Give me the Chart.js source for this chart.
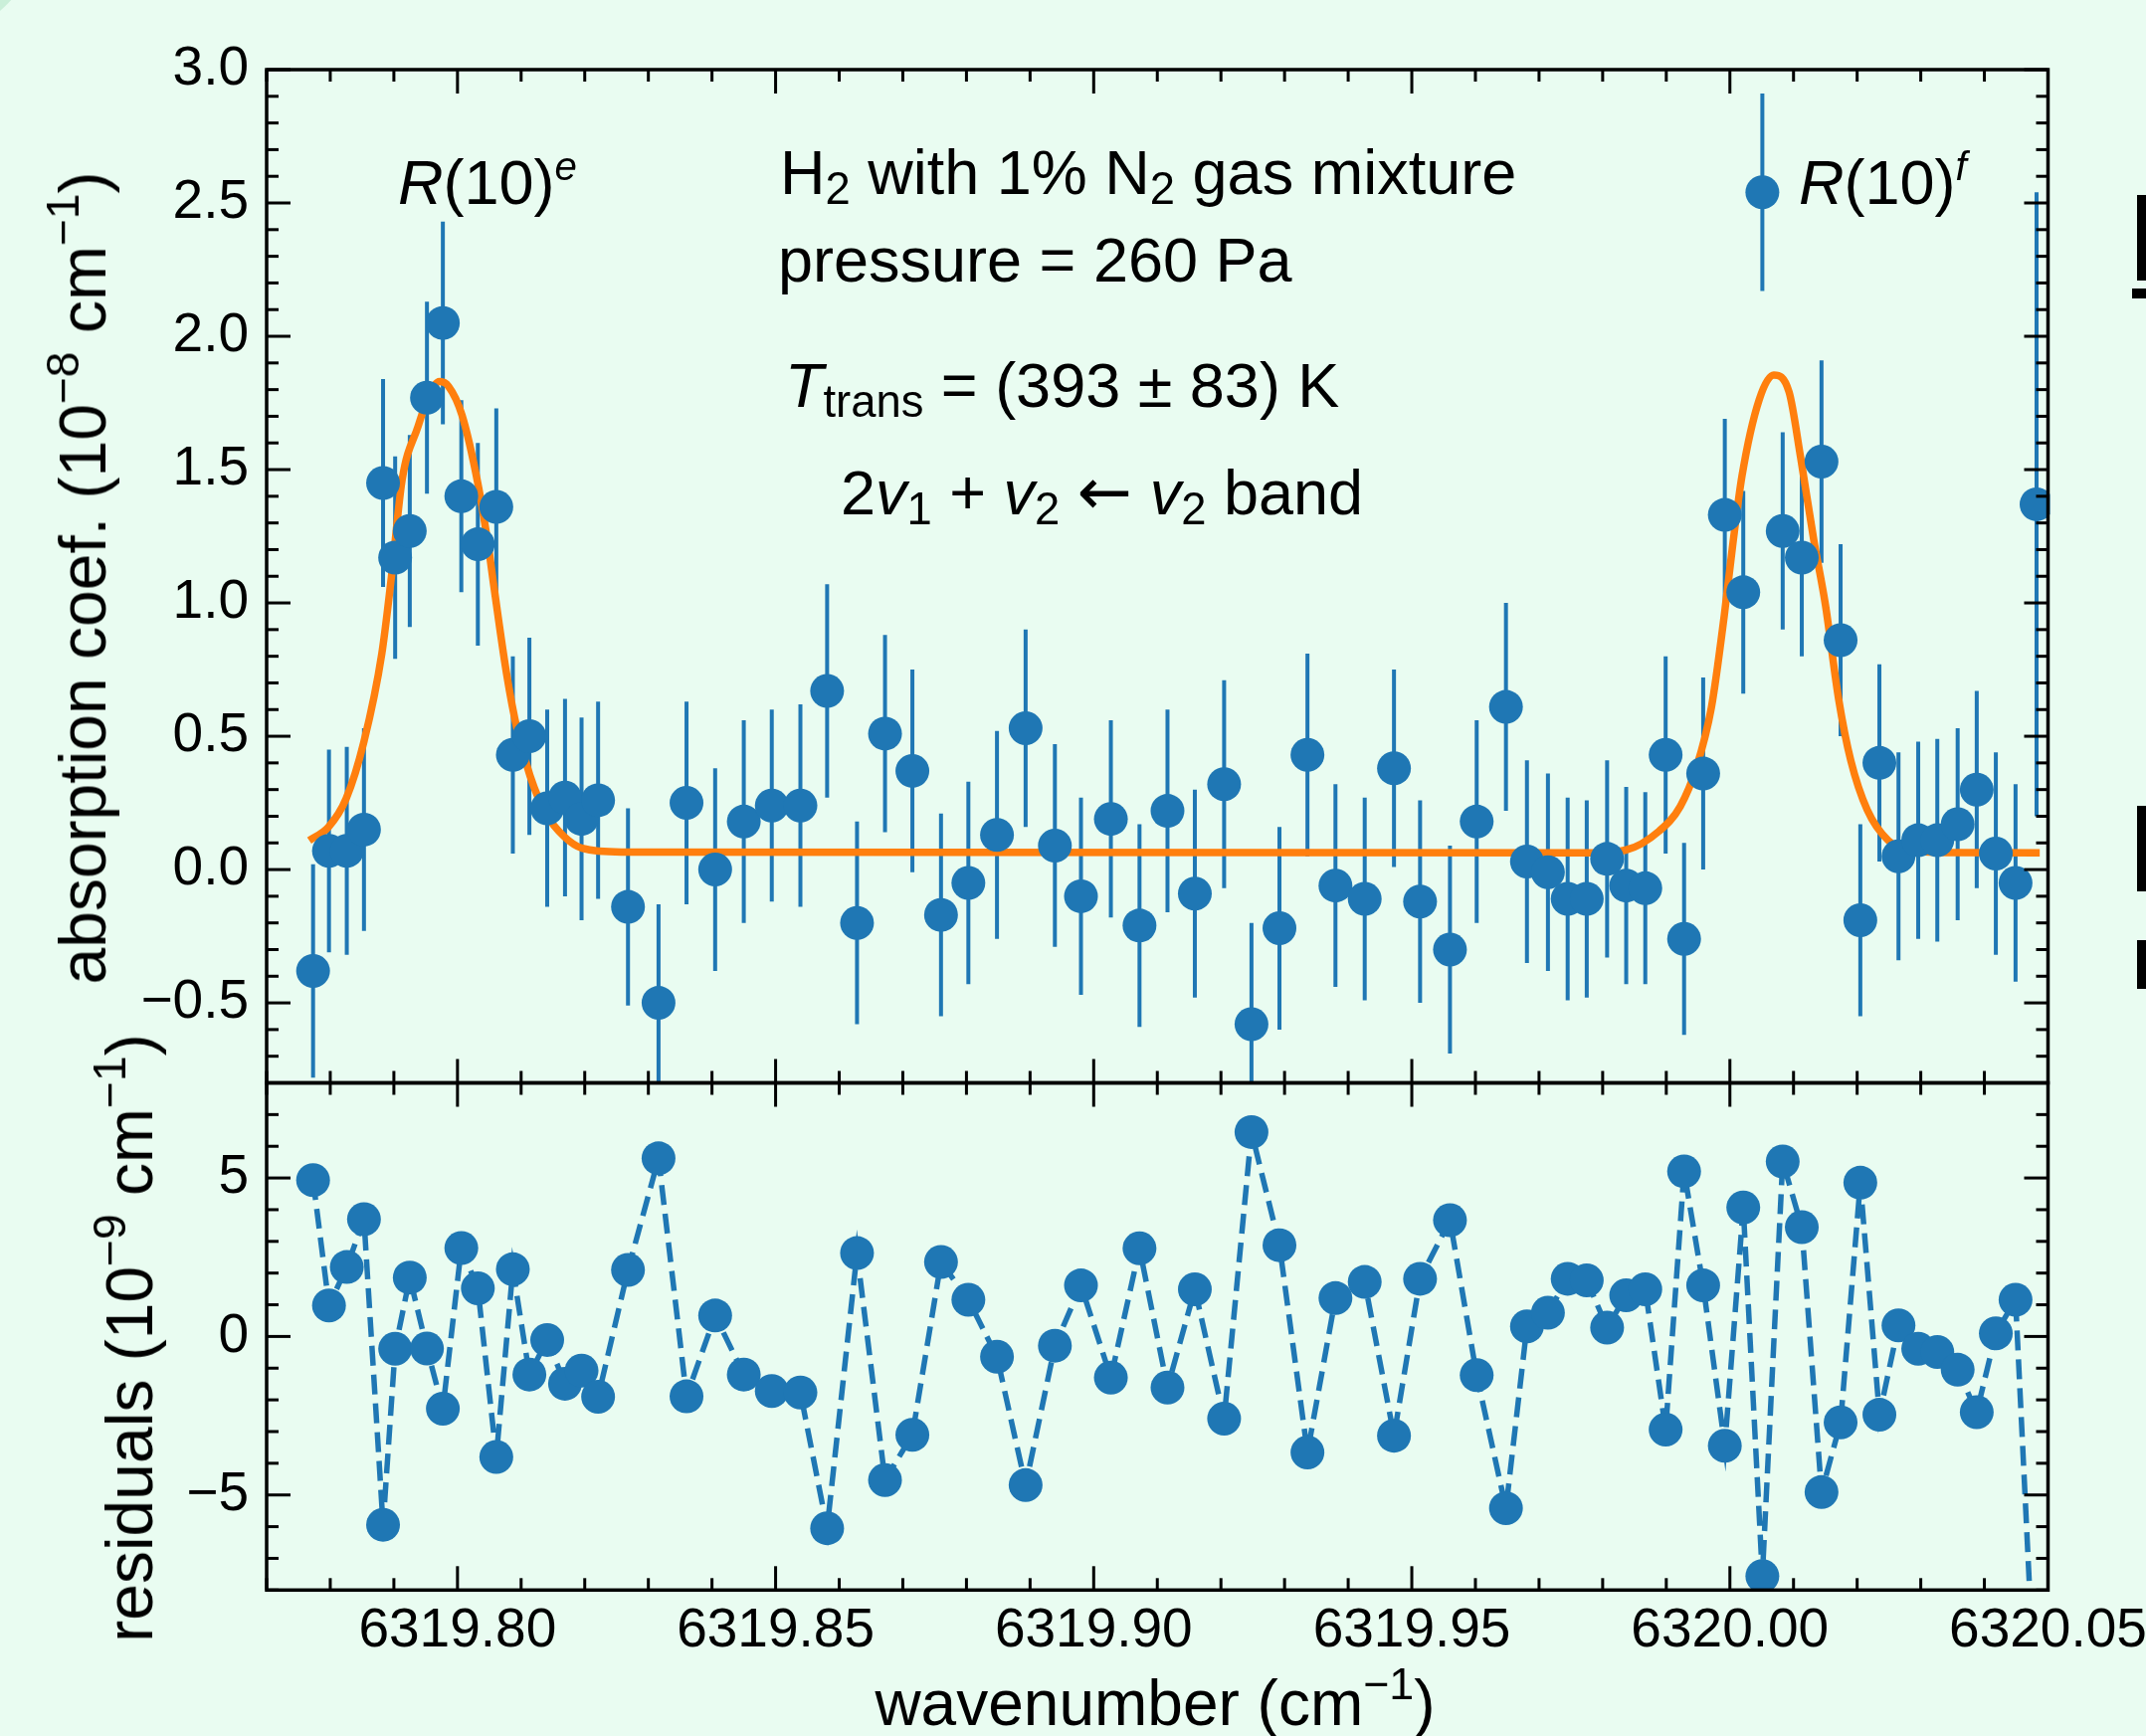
<!DOCTYPE html>
<html>
<head>
<meta charset="utf-8">
<script src="https://cdn.jsdelivr.net/npm/chart.js@4.4.1/dist/chart.umd.min.js"></script>
<style>
  html, body { margin: 0; padding: 0; }
  body {
    width: 2157px; height: 1745px; overflow: hidden; position: relative;
    background: #e9fcf1; font-family: "Liberation Sans", Arial, sans-serif; color: #000;
  }
  canvas { position: absolute; left: 0; }
  #absChart { top: 0; }
  #resChart { top: 1050px; }
  .txt { position: absolute; white-space: nowrap; line-height: 1; font-size: 63px; }
  .txt sub { font-size: 72%; vertical-align: -10px; line-height: 0; }
  .txt sup { font-size: 64%; vertical-align: 24px; line-height: 0; }
  .arrow { font-family: "DejaVu Sans", sans-serif; font-size: 66px; line-height: 0; }
  .lbl { position: absolute; white-space: nowrap; line-height: 1; font-size: 66px; }
  .lbl sup { font-size: 70%; vertical-align: 27px; line-height: 0; }
  .xlbl { font-size: 64px; transform: translateX(-50%); }
  .xlbl sup { vertical-align: 26px; }
  .ylbl { transform: translate(-50%, -50%) rotate(-90deg); }
  .corner { position: absolute; width: 610px; height: 610px; border-radius: 50%;
    left: -513px; top: -517px; background: #caefd9; }
  .frag { position: absolute; background: #000; }
</style>
</head>
<body>
<div class="corner"></div>
<canvas id="absChart" width="2157" height="1100"></canvas>
<canvas id="resChart" width="2157" height="695"></canvas>

<!-- annotations -->
<div class="txt" style="left:784px; top:142px;">H<sub>2</sub> with 1% N<sub>2</sub> gas mixture</div>
<div class="txt" style="left:782px; top:230px;">pressure = 260 Pa</div>
<div class="txt" style="left:789px; top:356px;"><i>T</i><sub>trans</sub> = (393 ± 83) K</div>
<div class="txt" style="left:845px; top:464px;">2<i>v</i><sub>1</sub> + <i>v</i><sub>2</sub> <span class="arrow">←</span> <i>v</i><sub>2</sub> band</div>
<div class="txt" style="left:400px; top:152px;"><i>R</i>(10)<sup><i>e</i></sup></div>
<div class="txt" style="left:1808px; top:152px;"><i>R</i>(10)<sup><i>f</i></sup></div>

<!-- axis titles -->
<div class="lbl ylbl" style="left:83px; top:581px;">absorption coef. (10<sup>−8</sup> cm<sup>−1</sup>)</div>
<div class="lbl ylbl" style="left:130px; top:1345px;">residuals (10<sup>−9</sup> cm<sup>−1</sup>)</div>
<div class="lbl xlbl" style="left:1161px; top:1680px;">wavenumber (cm<sup>−1</sup>)</div>

<!-- cut-off glyphs of the neighbouring panel -->
<div class="frag" style="left:2148px; top:196px; width:9px; height:86px;"></div>
<div class="frag" style="left:2143px; top:290px; width:14px; height:10px;"></div>
<div class="frag" style="left:2148px; top:810px; width:9px; height:86px;"></div>
<div class="frag" style="left:2148px; top:945px; width:9px; height:49px;"></div>

<script>
// measured spectrum (absorption in 1e-8 cm^-1, residuals in 1e-9 cm^-1)
const wavenumber = [
    6319.7773, 6319.7798, 6319.7826, 6319.7853, 6319.7883, 6319.7902, 6319.7925, 6319.7952,
    6319.7977, 6319.8006, 6319.8032, 6319.8061, 6319.8087, 6319.8113, 6319.8141, 6319.8169,
    6319.8195, 6319.8221, 6319.8268, 6319.8316, 6319.8360, 6319.8405, 6319.8450, 6319.8494,
    6319.8539, 6319.8581, 6319.8628, 6319.8672, 6319.8715, 6319.8760, 6319.8803, 6319.8848,
    6319.8893, 6319.8939, 6319.8980, 6319.9027, 6319.9072, 6319.9116, 6319.9159, 6319.9205,
    6319.9248, 6319.9292, 6319.9336, 6319.9380, 6319.9426, 6319.9472, 6319.9513, 6319.9560,
    6319.9602, 6319.9648, 6319.9681, 6319.9714, 6319.9745, 6319.9775, 6319.9807, 6319.9837,
    6319.9867, 6319.9899, 6319.9928, 6319.9958, 6319.9992, 6320.0021, 6320.0051, 6320.0083,
    6320.0113, 6320.0144, 6320.0174, 6320.0205, 6320.0235, 6320.0265, 6320.0296, 6320.0326,
    6320.0358, 6320.0388, 6320.0418, 6320.0449, 6320.0482
];
const absorption = [
    -0.38, 0.07, 0.07, 0.15, 1.45, 1.17, 1.27, 1.77,
    2.05, 1.40, 1.22, 1.36, 0.43, 0.50, 0.23, 0.27,
    0.19, 0.26, -0.14, -0.50, 0.25, 0.00, 0.18, 0.24,
    0.24, 0.67, -0.20, 0.51, 0.37, -0.17, -0.05, 0.13,
    0.53, 0.09, -0.10, 0.19, -0.21, 0.22, -0.09, 0.32,
    -0.58, -0.22, 0.43, -0.06, -0.11, 0.38, -0.12, -0.30,
    0.18, 0.61, 0.03, -0.01, -0.11, -0.11, 0.04, -0.06,
    -0.07, 0.43, -0.26, 0.36, 1.33, 1.04, 2.54, 1.27,
    1.17, 1.53, 0.86, -0.19, 0.40, 0.05, 0.11, 0.11,
    0.17, 0.30, 0.06, -0.05, 1.37
];
const absorptionErr = [
    0.40, 0.38, 0.39, 0.38, 0.39, 0.38, 0.36, 0.36,
    0.38, 0.36, 0.38, 0.37, 0.37, 0.37, 0.37, 0.37,
    0.38, 0.37, 0.37, 0.37, 0.38, 0.38, 0.38, 0.36,
    0.38, 0.40, 0.38, 0.37, 0.38, 0.38, 0.38, 0.39,
    0.37, 0.38, 0.37, 0.37, 0.38, 0.38, 0.39, 0.39,
    0.38, 0.38, 0.38, 0.38, 0.38, 0.37, 0.38, 0.39,
    0.38, 0.39, 0.38, 0.37, 0.38, 0.37, 0.37, 0.37,
    0.36, 0.37, 0.36, 0.36, 0.36, 0.38, 0.37, 0.37,
    0.37, 0.38, 0.36, 0.36, 0.37, 0.39, 0.37, 0.38,
    0.36, 0.37, 0.38, 0.37, 1.17
];
const residuals = [
    4.93, 0.98, 2.19, 3.70, -5.94, -0.39, 1.86, -0.38,
    -2.28, 2.79, 1.52, -3.80, 2.12, -1.20, -0.11, -1.49,
    -1.08, -1.90, 2.10, 5.62, -1.89, 0.66, -1.20, -1.72,
    -1.77, -6.05, 2.63, -4.53, -3.10, 2.35, 1.16, -0.64,
    -4.69, -0.29, 1.61, -1.30, 2.78, -1.61, 1.49, -2.59,
    6.45, 2.88, -3.66, 1.21, 1.72, -3.13, 1.82, 3.67,
    -1.22, -5.42, 0.32, 0.75, 1.82, 1.77, 0.28, 1.30,
    1.49, -2.94, 5.21, 1.61, -3.45, 4.07, -7.56, 5.52,
    3.45, -4.91, -2.71, 4.85, -2.47, 0.35, -0.39, -0.49,
    -1.05, -2.39, 0.10, 1.16, -12.5
];

// fitted profile
const modelWn = [
    6319.7767, 6319.7797, 6319.7825, 6319.7853, 6319.7881, 6319.7896, 6319.7913, 6319.7938,
    6319.7955, 6319.7972, 6319.7986, 6319.8007, 6319.8032, 6319.8049, 6319.8057, 6319.8077,
    6319.8094, 6319.8114, 6319.8139, 6319.8168, 6319.8196, 6319.8258, 6319.9783, 6319.9836,
    6319.9889, 6319.9922, 6319.9947, 6319.9971, 6319.9991, 6320.0004, 6320.0019, 6320.0046,
    6320.0069, 6320.0093, 6320.0111, 6320.0132, 6320.0150, 6320.0171, 6320.0190, 6320.0216,
    6320.0249, 6320.0282, 6320.0346, 6320.0487
];
const modelVal = [
    0.109, 0.159, 0.266, 0.480, 0.809, 1.095, 1.462, 1.662,
    1.777, 1.830, 1.812, 1.705, 1.448, 1.205, 1.066, 0.737,
    0.523, 0.352, 0.209, 0.123, 0.080, 0.066, 0.063, 0.073,
    0.145, 0.237, 0.380, 0.609, 0.950, 1.209, 1.476, 1.762,
    1.855, 1.791, 1.548, 1.234, 0.995, 0.638, 0.409, 0.223,
    0.109, 0.073, 0.064, 0.063
];

// tick labels
const xTicks = [6319.80, 6319.85, 6319.90, 6319.95, 6320.00, 6320.05];
const yTicksAbs = [-0.5, 0.0, 0.5, 1.0, 1.5, 2.0, 2.5, 3.0];
const yTicksRes = [-5, 0, 5];

const BLUE = '#1f77b4';
const ORANGE = '#ff7f0e';
const TICK_FONT = { family: '"Liberation Sans", Arial, sans-serif', size: 55 };
const PLOT_LEFT = 268;      // px, left frame edge
const PLOT_RIGHT_PAD = 98.5; // px from the right frame edge to the page edge

Chart.defaults.color = '#000';

function minus(s) {
    return String(s).replace('-', '\u2212');
}

// frame with inward major/minor ticks on all four sides
const framePlugin = {
    id: 'frame',
    afterDatasetsDraw(chart, args, opts) {
        const { ctx, chartArea: a, scales } = chart;
        const line = (x1, y1, x2, y2) => {
            ctx.beginPath();
            ctx.moveTo(x1, y1);
            ctx.lineTo(x2, y2);
            ctx.stroke();
        };
        const minorVals = (min, max, step, majors) => {
            const out = [];
            for (let k = Math.ceil(min / step - 1e-6); k * step <= max + 1e-9; k++) {
                const v = k * step;
                if (!majors.some(m => Math.abs(m - v) < step / 10)) out.push(v);
            }
            return out;
        };
        ctx.save();
        ctx.strokeStyle = '#000';
        ctx.lineWidth = 3;
        const sx = scales.x, sy = scales.y;
        const xm = opts.xMajor, ym = opts.yMajor;
        [[xm, 24], [minorVals(sx.min, sx.max, opts.xMinor, xm), 12]].forEach(([vals, len]) => {
            vals.forEach(v => {
                const px = sx.getPixelForValue(v);
                line(px, a.bottom, px, a.bottom - len);
                line(px, a.top, px, a.top + len);
            });
        });
        [[ym, 24], [minorVals(sy.min, sy.max, opts.yMinor, ym), 12]].forEach(([vals, len]) => {
            vals.forEach(v => {
                const py = sy.getPixelForValue(v);
                line(a.left, py, a.left + len, py);
                line(a.right, py, a.right - len, py);
            });
        });
        ctx.lineWidth = 3.5;
        ctx.strokeRect(a.left, a.top, a.right - a.left, a.bottom - a.top);
        ctx.restore();
    }
};

// vertical error bars under the markers
const errorBarPlugin = {
    id: 'errorBars',
    beforeDatasetsDraw(chart) {
        const { ctx, chartArea: a, scales: { x, y } } = chart;
        ctx.save();
        ctx.beginPath();
        ctx.rect(a.left, a.top, a.right - a.left, a.bottom - a.top);
        ctx.clip();
        ctx.strokeStyle = BLUE;
        ctx.lineWidth = 4;
        wavenumber.forEach((w, i) => {
            const px = x.getPixelForValue(w);
            ctx.beginPath();
            ctx.moveTo(px, y.getPixelForValue(absorption[i] - absorptionErr[i]));
            ctx.lineTo(px, y.getPixelForValue(absorption[i] + absorptionErr[i]));
            ctx.stroke();
        });
        ctx.restore();
    }
};

function xScale(showLabels, height) {
    return {
        type: 'linear',
        min: 6319.77,
        max: 6320.05,
        afterBuildTicks: s => { s.ticks = xTicks.map(v => ({ value: v })); },
        ticks: {
            display: showLabels,
            font: TICK_FONT,
            padding: 9,
            maxRotation: 0,
            autoSkip: false,
            callback: v => v.toFixed(2)
        },
        grid: { display: false, drawTicks: false },
        border: { display: false },
        afterFit: s => {
            s.height = height;
            s.paddingLeft = 0; s.paddingRight = 0;
            s.paddingTop = 0; s.paddingBottom = 0;
        }
    };
}

function yScale(min, max, ticks, digits) {
    return {
        min: min,
        max: max,
        afterBuildTicks: s => { s.ticks = ticks.map(v => ({ value: v })); },
        ticks: {
            font: TICK_FONT,
            padding: 18,
            callback: v => minus(v.toFixed(digits))
        },
        grid: { display: false, drawTicks: false },
        border: { display: false },
        afterFit: s => { s.width = PLOT_LEFT; s.paddingTop = 0; s.paddingBottom = 0; }
    };
}

const baseOptions = {
    responsive: false,
    animation: false,
    devicePixelRatio: 1,
    events: [],
    plugins: { legend: { display: false }, tooltip: { enabled: false } }
};

// upper panel: absorption with fit
new Chart(document.getElementById('absChart'), {
    type: 'scatter',
    data: {
        datasets: [{
            label: 'R(10)',
            data: wavenumber.map((w, i) => ({ x: w, y: absorption[i] })),
            pointRadius: 17,
            pointBackgroundColor: BLUE,
            pointBorderWidth: 0,
            clip: { left: 20, top: 20, right: 2, bottom: 20 },
            order: 1
        }, {
            label: 'fit',
            data: modelWn.map((w, i) => ({ x: w, y: modelVal[i] })),
            showLine: true,
            borderColor: ORANGE,
            borderWidth: 7.5,
            pointRadius: 0,
            cubicInterpolationMode: 'monotone',
            order: 2
        }]
    },
    options: {
        ...baseOptions,
        layout: {
            autoPadding: false,
            padding: { left: 0, top: 70, right: PLOT_RIGHT_PAD, bottom: 11.5 }
        },
        scales: {
            x: xScale(false, 0),
            y: yScale(-0.8, 3.0, yTicksAbs, 1)
        },
        plugins: {
            ...baseOptions.plugins,
            frame: { xMajor: xTicks, yMajor: yTicksAbs, xMinor: 0.01, yMinor: 0.1 }
        }
    },
    plugins: [errorBarPlugin, framePlugin]
});

// lower panel: residuals
new Chart(document.getElementById('resChart'), {
    type: 'scatter',
    data: {
        datasets: [{
            label: 'residuals',
            data: wavenumber.map((w, i) => ({ x: w, y: residuals[i] })),
            showLine: true,
            borderColor: BLUE,
            borderWidth: 5.5,
            borderDash: [20, 9],
            pointRadius: 17,
            pointBackgroundColor: BLUE,
            pointBorderWidth: 0,
            clip: { left: 20, top: 20, right: 2, bottom: 1 }
        }]
    },
    options: {
        ...baseOptions,
        layout: {
            autoPadding: false,
            padding: { left: 0, top: 38.5, right: PLOT_RIGHT_PAD, bottom: 0 }
        },
        scales: {
            x: xScale(true, 146.7),
            y: yScale(-8, 8, yTicksRes, 0)
        },
        plugins: {
            ...baseOptions.plugins,
            frame: { xMajor: xTicks, yMajor: yTicksRes, xMinor: 0.01, yMinor: 1 }
        }
    },
    plugins: [framePlugin]
});
</script>
</body>
</html>
